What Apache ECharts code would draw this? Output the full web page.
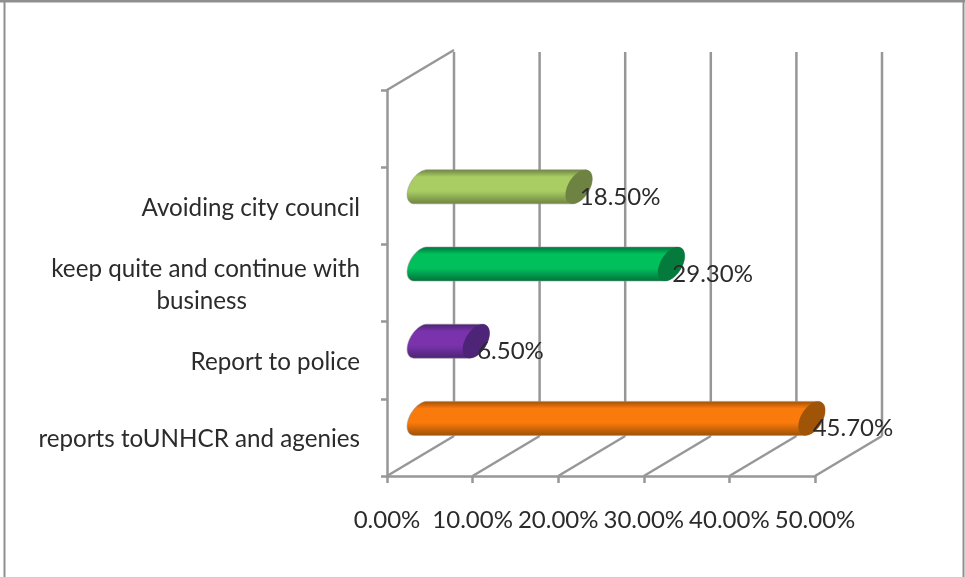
<!DOCTYPE html>
<html>
<head>
<meta charset="utf-8">
<style>html,body{margin:0;padding:0;background:#fff}#chart{width:965px;height:578px}</style>
<script src="https://cdn.jsdelivr.net/npm/echarts@6/dist/echarts.min.js"></script>
</head>
<body>
<div id="chart"></div>
<script>
// Responses, listed bottom to top; the top band of the axis stays empty.
const categories = [
  'reports toUNHCR and agenies',
  'Report to police',
  'keep quite and continue with\nbusiness',
  'Avoiding city council',
  ''
];
const responseShares = [45.7, 6.5, 29.3, 18.5];
const shareLabels = ['45.70%', '6.50%', '29.30%', '18.50%'];
const xTicks = [0, 10, 20, 30, 40, 50];

// [edge, body, cap] shades of each cylinder
const shades = [
  ['#9c4f06', '#fb7a0c', '#a05408'],
  ['#4a2372', '#7a33ad', '#4d2478'],
  ['#00703a', '#00c05c', '#047a3c'],
  ['#6c8240', '#a9cd62', '#6e8242']
];

// Oblique projection of the chart's depth axis
const DEPTH_X = 67, DEPTH_Y = -40;
const RADIUS_X = 13.4, RADIUS_DEPTH_Y = 8, RADIUS_UP = 15;
const LINE = '#979797';
const LINE_WIDTH = 2.5;
const TEXT = '#2b2b2b';
const FONT = 'Lato';

// Point on the ring at the end of a cylinder whose axis passes through (cx, cy)
function ringPoint(cx, cy, t) {
  return [
    cx + Math.sin(t) * RADIUS_X,
    cy + Math.cos(t) * RADIUS_UP - Math.sin(t) * RADIUS_DEPTH_Y
  ];
}
function ring(cx, cy, from, to) {
  const pts = [];
  const n = 48;
  for (let i = 0; i <= n; i++) pts.push(ringPoint(cx, cy, from + (to - from) * i / n));
  return pts;
}

// Floor diagonal and back-wall upright for one tick of the value axis
function renderWalls(params, api) {
  const v = api.value(0);
  const x = api.coord([v, 0])[0];
  const yBottom = params.coordSys.y + params.coordSys.height;
  const yTop = params.coordSys.y;
  const style = { stroke: LINE, lineWidth: LINE_WIDTH, fill: null };
  const seg = (a, b, c, d) => ({ type: 'line', shape: { x1: a, y1: b, x2: c, y2: d }, style });
  const kids = [
    seg(x, yBottom, x + DEPTH_X, yBottom + DEPTH_Y),
    seg(x + DEPTH_X, yBottom + DEPTH_Y, x + DEPTH_X, yTop + DEPTH_Y + 2)
  ];
  if (v === 0) kids.push(seg(x, yTop, x + DEPTH_X, yTop + DEPTH_Y));
  return { type: 'group', children: kids };
}

function renderBar(params, api) {
  const i = params.dataIndex;
  const end = api.coord([api.value(0), i]);
  const start = api.coord([0, i]);
  const cy = end[1] + DEPTH_Y / 2 + 1;
  const x0 = start[0] + DEPTH_X / 2;
  const x1 = end[0] + DEPTH_X / 2;
  const [edge, body, cap] = shades[i];
  // Outline: far half of the end ring joined to the near half of the start ring
  const topT = Math.PI - Math.atan2(RADIUS_DEPTH_Y, RADIUS_UP);
  const outline = ring(x1, cy, topT, topT - Math.PI)
    .concat(ring(x0, cy, topT - Math.PI, topT - Math.PI * 2));
  const gradient = {
    type: 'linear', x: 0, y: 0, x2: 0, y2: 1,
    colorStops: [
      { offset: 0, color: edge },
      { offset: 0.22, color: body },
      { offset: 0.62, color: body },
      { offset: 1, color: edge }
    ]
  };
  return {
    type: 'group',
    children: [
      {
        type: 'polygon',
        shape: { points: outline },
        style: { fill: gradient, stroke: 'rgba(150,150,150,0.55)', lineWidth: 1 }
      },
      {
        type: 'polygon',
        shape: { points: ring(x1, cy, 0, Math.PI * 2) },
        style: { fill: cap }
      },
      {
        type: 'text',
        z2: 10,
        style: {
          x: x1 + 1,
          y: cy + 10,
          text: shareLabels[i],
          fill: TEXT,
          font: '24px ' + FONT,
          align: 'left',
          verticalAlign: 'middle'
        }
      }
    ]
  };
}

const chart = echarts.init(document.getElementById('chart'), null, { renderer: 'canvas' });
chart.setOption({
  animation: false,
  backgroundColor: '#fff',
  grid: { left: 387, top: 90, width: 428, height: 386, containLabel: false },
  graphic: [{
    type: 'group',
    silent: true,
    children: [
      { type: 'line', shape: { x1: 0, y1: 1, x2: 965, y2: 1 }, style: { stroke: '#8f8f8f', lineWidth: 3 } },
      { type: 'line', shape: { x1: 4.5, y1: 0, x2: 4.5, y2: 578 }, style: { stroke: '#8f8f8f', lineWidth: 2 } },
      { type: 'line', shape: { x1: 963.5, y1: 0, x2: 963.5, y2: 578 }, style: { stroke: '#8f8f8f', lineWidth: 2 } },
      { type: 'line', shape: { x1: 0, y1: 577.5, x2: 965, y2: 577.5 }, style: { stroke: '#cfcfcf', lineWidth: 1 } }
    ]
  }],
  xAxis: {
    type: 'value',
    min: 0,
    max: 50,
    interval: 10,
    splitLine: { show: false },
    axisLine: { show: true, lineStyle: { color: LINE, width: LINE_WIDTH } },
    axisTick: { show: true, length: 7, lineStyle: { color: LINE, width: LINE_WIDTH } },
    axisLabel: {
      margin: 32,
      color: TEXT,
      fontFamily: FONT,
      fontSize: 24,
      formatter: v => v.toFixed(2) + '%'
    }
  },
  yAxis: {
    type: 'category',
    data: categories,
    axisLine: { show: true, lineStyle: { color: LINE, width: LINE_WIDTH } },
    axisTick: { show: true, length: 6, alignWithLabel: false, lineStyle: { color: LINE, width: LINE_WIDTH } },
    splitLine: { show: false },
    axisLabel: {
      interval: 0,
      margin: 27,
      align: 'right',
      color: TEXT,
      fontFamily: FONT,
      fontSize: 24.2,
      lineHeight: 32,
      padding: [4, 0, 0, 0],
      formatter: s => {
        const lines = s.split('\n');
        return lines.length > 1 ? lines[0] + '\n{second|' + lines[1] + '}' : s;
      },
      rich: {
        second: { color: TEXT, fontFamily: FONT, fontSize: 24.2, lineHeight: 32, padding: [0, 113, 0, 0] }
      }
    }
  },
  series: [
    {
      type: 'custom',
      name: 'walls',
      silent: true,
      z: 1,
      clip: false,
      renderItem: renderWalls,
      encode: { x: 0 },
      data: xTicks.map(t => [t])
    },
    {
      type: 'custom',
      name: 'shares',
      silent: true,
      z: 3,
      clip: false,
      renderItem: renderBar,
      encode: { x: 0, y: 1 },
      data: responseShares.map((v, i) => [v, i])
    }
  ]
});
</script>
</body>
</html>
